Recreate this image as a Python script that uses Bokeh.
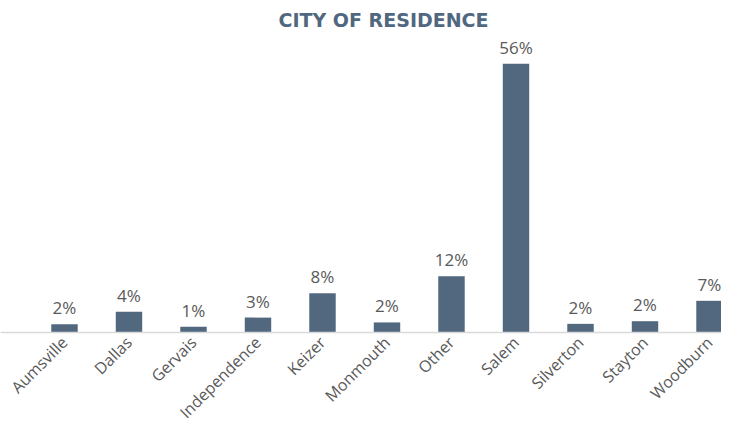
from bokeh.plotting import figure
from bokeh.models import ColumnDataSource, Range1d, FixedTicker, LabelSet
from bokeh.core.properties import value
from bokeh.embed import file_html
from bokeh.resources import INLINE
import math

cities = ["Aumsville", "Dallas", "Gervais", "Independence", "Keizer", "Monmouth",
          "Other", "Salem", "Silverton", "Stayton", "Woodburn"]
shares = [1.7, 4.3, 1.2, 3.1, 8.2, 2.1, 11.7, 56.0, 1.8, 2.35, 6.6]
labels = ["2%", "4%", "1%", "3%", "8%", "2%", "12%", "56%", "2%", "2%", "7%"]

idx = list(range(len(cities)))
src = ColumnDataSource(dict(x=idx, y=shares, lab=labels))

p = figure(width=721, height=423, output_backend="svg", toolbar_location=None,
           x_range=Range1d(-0.992, 10.186), y_range=Range1d(-18.96, 62.5),
           title="CITY OF RESIDENCE")
p.min_border = 0
p.min_border_top = 32
p.outline_line_color = None
p.background_fill_color = "white"
p.grid.visible = False

p.title.align = "left"
p.title.offset = 278
p.title.standoff = 3
p.title.text_font = "DejaVu Sans"
p.title.text_font_style = "bold"
p.title.text_font_size = "19px"
p.title.text_color = "#50687f"

p.vbar(x="x", top="y", bottom=0, width=0.41, source=src, fill_color="#51687f", line_color=None)

p.add_layout(LabelSet(x="x", y="y", text="lab", source=src, text_align="center",
                      text_baseline="bottom", y_offset=5, text_font=value("Open Sans"),
                      text_font_size="17px", text_color="#595959"))

p.yaxis.visible = False
ax = p.xaxis[0]
ax.fixed_location = 0
ax.ticker = FixedTicker(ticks=idx)
ax.major_label_overrides = {i: c for i, c in enumerate(cities)}
ax.major_label_orientation = math.pi / 4
ax.major_label_text_font = "Open Sans"
ax.major_label_text_font_size = "16px"
ax.major_label_text_color = "#595959"
ax.major_tick_line_color = None
ax.minor_tick_line_color = None
ax.major_tick_out = 0
ax.major_tick_in = 0
ax.minor_tick_out = 0
ax.minor_tick_in = 0
ax.axis_line_color = "#d9d9d9"
ax.axis_line_width = 1.5
ax.major_label_standoff = 7

open("out.html", "w").write(file_html(p, INLINE))
